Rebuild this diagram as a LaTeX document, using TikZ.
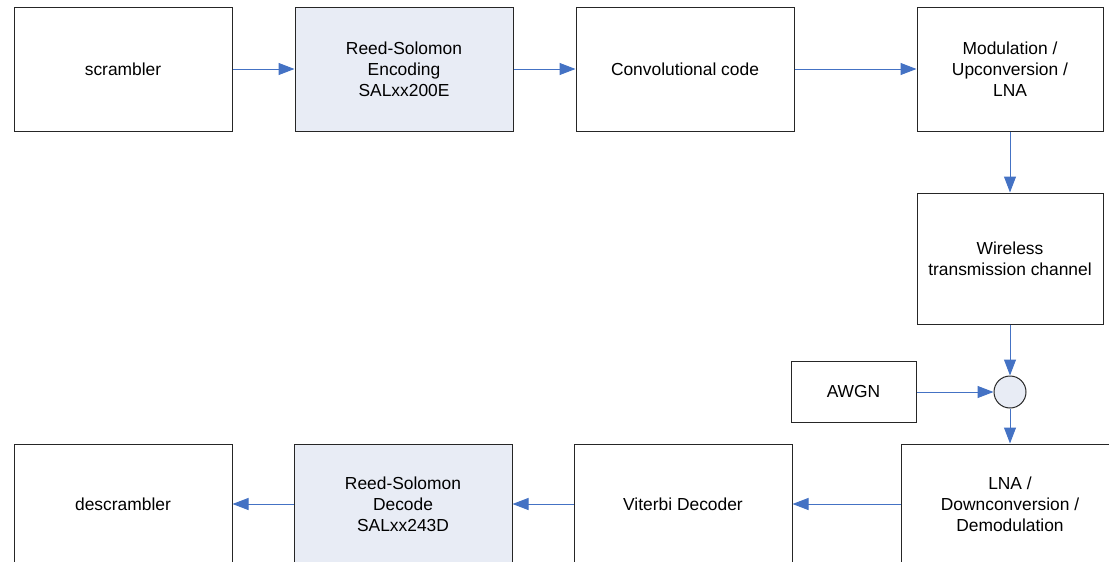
\documentclass[tikz,border=0pt]{standalone}
\usepackage{fontspec}
\setmainfont{Liberation Sans}
\usepackage{xcolor}
\definecolor{colorArrow}{RGB}{68,114,196}
\definecolor{colorFill}{RGB}{232,236,245}
\usetikzlibrary{arrows.meta, positioning}
\tikzset{
  block/.style={draw=black!85, line width=1pt, minimum width=218pt, minimum height=124pt, align=center, inner sep=0pt},
  rsblock/.style={block, fill=colorFill},
  flow/.style={->, colorArrow, line width=1pt}
}

\begin{document}
\begin{tikzpicture}[x=1pt, y=-1pt, >={Triangle[length=16pt,width=12pt]}, font=\fontsize{17.4}{21}\selectfont]
\useasboundingbox (0,0) rectangle (1109,562);
\node[block] (scr) at (123,69) {scrambler};
\node[rsblock, right=62pt of scr] (rsenc) {Reed-Solomon\\Encoding\\SALxx200E};
\node[block, right=62pt of rsenc] (conv) {Convolutional code};
\node[block, minimum width=186pt, right=122pt of conv] (mod) {Modulation /\\Upconversion /\\LNA};
\node[block, minimum width=186pt, minimum height=131pt, below=61pt of mod] (chan) {Wireless\\transmission channel};
\node[circle, draw=black!85, line width=1pt, fill=colorFill, minimum size=32pt, inner sep=0pt, below=51pt of chan] (sum) {};
\node[block, minimum width=125pt, minimum height=61pt, left=77pt of sum] (awgn) {AWGN};
\node[block, minimum height=120pt, below=35pt of sum] (lna) {LNA /\\Downconversion /\\Demodulation};
\node[block, minimum height=120pt, left=108pt of lna] (vit) {Viterbi Decoder};
\node[rsblock, minimum height=120pt, left=61pt of vit] (rsdec) {Reed-Solomon\\Decode\\SALxx243D};
\node[block, minimum height=120pt, left=61pt of rsdec] (descr) {descrambler};
\draw[flow] (scr) -- (rsenc);
\draw[flow] (rsenc) -- (conv);
\draw[flow] (conv) -- (mod);
\draw[flow] (mod) -- (chan);
\draw[flow] (chan) -- (sum);
\draw[flow] (awgn) -- (sum);
\draw[flow] (sum) -- (lna);
\draw[flow] (lna) -- (vit);
\draw[flow] (vit) -- (rsdec);
\draw[flow] (rsdec) -- (descr);
\end{tikzpicture}
\end{document}
